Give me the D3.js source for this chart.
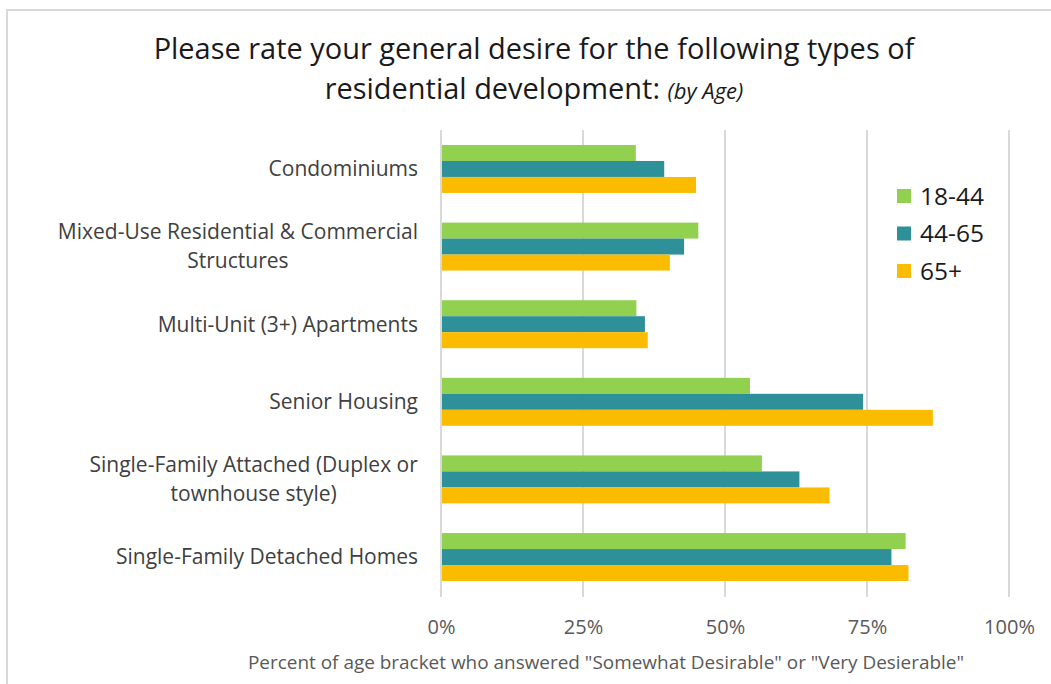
<!DOCTYPE html>
<html>
<head>
<meta charset="utf-8">
<script src="https://cdn.jsdelivr.net/npm/d3@7"></script>
<style>
  html, body { margin: 0; padding: 0; background: #fff; }
  svg { display: block; }
  text { font-family: "Open Sans", "Noto Sans", sans-serif; }
</style>
</head>
<body>
<svg id="chart" width="1051" height="684"></svg>
<script>
// ---- Data ----
const categories = [
  "Condominiums",
  "Mixed-Use Residential & Commercial Structures",
  "Multi-Unit (3+) Apartments",
  "Senior Housing",
  "Single-Family Attached (Duplex or townhouse style)",
  "Single-Family Detached Homes"
];
const categoryLines = [
  ["Condominiums"],
  ["Mixed-Use Residential & Commercial", "Structures"],
  ["Multi-Unit (3+) Apartments"],
  ["Senior Housing"],
  ["Single-Family Attached (Duplex or", "townhouse style)"],
  ["Single-Family Detached Homes"]
];
const seriesNames = ["18-44", "44-65", "65+"];
const values18to44 = [0.343, 0.453, 0.344, 0.544, 0.565, 0.818];
const values44to65 = [0.393, 0.428, 0.359, 0.743, 0.631, 0.793];
const values65plus = [0.449, 0.403, 0.364, 0.866, 0.684, 0.823];
const tickValues = [0, 0.25, 0.5, 0.75, 1];
const tickLabels = ["0%", "25%", "50%", "75%", "100%"];
const titleLine1 = "Please rate your general desire for the following types of";
const titleLine2 = "residential development: ";
const titleItalic = "(by Age)";
const axisTitle = "Percent of age bracket who answered \"Somewhat Desirable\" or \"Very Desierable\"";

const seriesValues = [values18to44, values44to65, values65plus];
const colors = ["#92D050", "#2E9098", "#FBBC00"];

// ---- Layout ----
const svg = d3.select("#chart");
const plot = { left: 441, right: 1009, top: 130, bottom: 596 };

function fitText(sel, target) {
  const node = sel.node();
  const size = parseFloat(sel.attr("font-size"));
  const w = node.getComputedTextLength();
  if (w > 0) sel.attr("font-size", (size * target / w).toFixed(2));
  return sel;
}

// chart border
svg.append("rect")
  .attr("x", 7).attr("y", 10).attr("width", 1200).attr("height", 800)
  .attr("fill", "#fff").attr("stroke", "#d9d9d9").attr("stroke-width", 2);

const x = d3.scaleLinear().domain([0, 1]).range([plot.left, plot.right]);
const y = d3.scaleBand().domain(categories).range([plot.top, plot.bottom])
  .paddingInner(0.382).paddingOuter(0.193);
const ySub = d3.scaleBand().domain(seriesNames).range([0, y.bandwidth()]);

// gridlines
svg.append("g").selectAll("line").data(tickValues).join("line")
  .attr("x1", d => x(d)).attr("x2", d => x(d))
  .attr("y1", plot.top).attr("y2", plot.bottom + 1)
  .attr("stroke", "#d9d9d9").attr("stroke-width", 2);

// bars
const groups = svg.append("g").selectAll("g").data(categories).join("g")
  .attr("transform", c => `translate(0,${y(c)})`);
groups.selectAll("rect")
  .data((c, i) => seriesNames.map((s, j) => ({ s, v: seriesValues[j][i], color: colors[j] })))
  .join("rect")
  .attr("x", x(0) + 1)
  .attr("y", d => ySub(d.s))
  .attr("width", d => x(d.v) - x(0) - 1)
  .attr("height", ySub.bandwidth())
  .attr("fill", d => d.color);

// category labels
const catG = svg.append("g");
categories.forEach((c, i) => {
  const lines = categoryLines[i];
  const cy = y(c) + y.bandwidth() / 2;
  const lh = 29;
  const t = catG.append("text")
    .attr("text-anchor", "middle")
    .attr("fill", "#404040")
    .attr("font-size", 21);
  lines.forEach((ln, k) => {
    t.append("tspan").attr("x", 0)
      .attr("y", cy + (k - (lines.length - 1) / 2) * lh)
      .attr("dy", "0.35em")
      .text(ln);
  });
  // position block so its right edge sits at 418
  const bb = t.node().getBBox();
  t.attr("transform", `translate(${418 - bb.width / 2},0)`);
});

// tick labels
const xAxis = d3.axisBottom(x).tickValues(tickValues)
  .tickFormat((d, i) => tickLabels[i]).tickSize(0).tickPadding(0);
const axG = svg.append("g").attr("transform", `translate(0,${plot.bottom + 38})`).call(xAxis);
axG.select(".domain").remove();
axG.selectAll("text").attr("font-size", 20).attr("fill", "#595959")
  .attr("font-family", "\"Open Sans\", sans-serif").attr("dy", 0);

// axis title
const at = svg.append("text").attr("x", 606).attr("y", 669)
  .attr("text-anchor", "middle").attr("fill", "#595959").attr("font-size", 16)
  .text(axisTitle);
fitText(at, 717);

// title
const t1 = svg.append("text").attr("x", 534).attr("y", 59)
  .attr("text-anchor", "middle").attr("fill", "#1a1a1a").attr("font-size", 25)
  .text(titleLine1);
fitText(t1, 761);
const t2 = svg.append("text").attr("x", 534).attr("y", 99)
  .attr("text-anchor", "middle").attr("fill", "#1a1a1a").attr("font-size", t1.attr("font-size"));
t2.append("tspan").text(titleLine2);
t2.append("tspan").attr("font-style", "italic").attr("font-size", 22).text(titleItalic);

// legend
const lg = svg.append("g").attr("transform", "translate(897,196)");
seriesNames.forEach((s, i) => {
  const row = lg.append("g").attr("transform", `translate(0,${i * 37.5})`);
  row.append("rect").attr("x", 0).attr("y", -7).attr("width", 14).attr("height", 14)
    .attr("fill", colors[i]);
  row.append("text").attr("x", 23).attr("y", 0).attr("dy", "0.35em")
    .attr("fill", "#1a1a1a").attr("font-size", 24.5).text(s);
});
</script>
</body>
</html>
